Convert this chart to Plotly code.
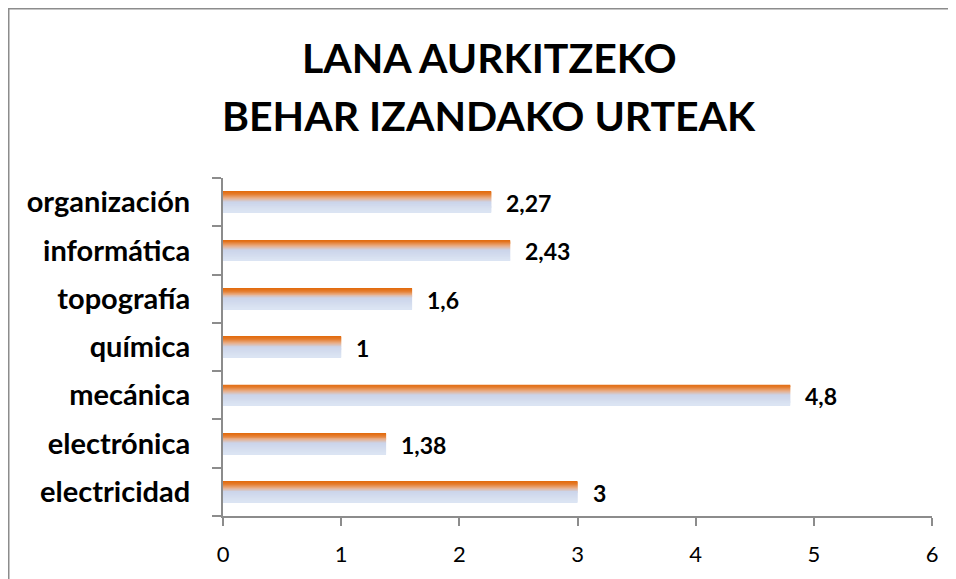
import plotly.graph_objects as go

categories = ["electricidad", "electrónica", "mecánica", "química", "topografía", "informática", "organización"]
values = [3, 1.38, 4.8, 1, 1.6, 2.43, 2.27]
x_ticks = [0, 1, 2, 3, 4, 5, 6]
title_lines = ["LANA AURKITZEKO", "BEHAR IZANDAKO URTEAK"]

FONT = "Lato"

def hex2rgb(h):
    h = h.lstrip("#")
    return tuple(int(h[i:i + 2], 16) for i in (0, 2, 4))

# gradient stops from top (0) to bottom (1)
stops = [(0.0, "#E2690A"), (0.14, "#E47A2A"), (0.32, "#E9AE88"), (0.5, "#CBD4EA"), (1.0, "#DCE5F3")]

def color_at(t):
    for (t0, c0), (t1, c1) in zip(stops[:-1], stops[1:]):
        if t0 <= t <= t1:
            f = (t - t0) / (t1 - t0) if t1 > t0 else 0
            a, b = hex2rgb(c0), hex2rgb(c1)
            r = [round(a[i] + (b[i] - a[i]) * f) for i in range(3)]
            return "rgb(%d,%d,%d)" % tuple(r)
    return stops[-1][1]

fig = go.Figure()
W = 0.43
N = 22
step = W / N
for i in range(N):
    t = (i + 0.5) / N  # from top
    off = W / 2 - (i + 1) * step
    fig.add_trace(go.Bar(
        x=values, y=categories, orientation="h",
        width=step * 1.35, offset=off - step * 0.175,
        marker=dict(color=color_at(t), line=dict(width=0)),
        hoverinfo="skip", showlegend=False,
    ))

for v, c in zip(values, categories):
    fig.add_annotation(
        x=v, y=c, xref="x", yref="y",
        text=("%g" % v).replace(".", ","),
        showarrow=False, xanchor="left", yanchor="middle",
        xshift=13, yshift=-1,
        font=dict(family=FONT, size=23, color="black", weight="bold"),
    )

# page body has an 8px margin: figure coords = page coords - 8
L, T = 215, 170
PW, PH = 709, 338
FW, FH = 956, 579
R, B = FW - L - PW, FH - T - PH

def px_x(p):
    return (p - L) / PW

def px_y(p):
    return (T + PH - p) / PH

fig.add_shape(type="rect", xref="paper", yref="paper",
              x0=px_x(0.5), x1=px_x(1000), y0=px_y(0.5), y1=px_y(640),
              line=dict(color="#8C8C8C", width=2), fillcolor="rgba(0,0,0,0)", layer="below")

for line, yc in zip(title_lines, [49, 108]):
    fig.add_annotation(
        x=px_x(481), y=px_y(yc), xref="paper", yref="paper",
        text=line, showarrow=False, xanchor="center", yanchor="middle",
        font=dict(family=FONT, size=41, color="black", weight="bold"),
    )

fig.update_layout(
    width=FW, height=FH,
    margin=dict(l=L, r=R, t=T, b=B),
    paper_bgcolor="white", plot_bgcolor="white",
    barmode="overlay",
    xaxis=dict(
        range=[0, 6], tickvals=x_ticks, ticktext=[str(v) for v in x_ticks],
        showgrid=False, zeroline=False,
        showline=True, linecolor="#8C8C8C", linewidth=2,
        ticks="outside", ticklen=8, tickwidth=2, tickcolor="#8C8C8C",
        tickfont=dict(family=FONT, size=22, color="black"),
        ticklabelstandoff=10,
    ),
    yaxis=dict(
        categoryorder="array", categoryarray=categories,
        range=[-0.5, 6.5],
        showgrid=False, zeroline=False,
        showline=True, linecolor="#8C8C8C", linewidth=2,
        ticks="outside", ticklen=9, tickwidth=2, tickcolor="#8C8C8C",
        tickson="boundaries",
        tickfont=dict(family=FONT, size=29, color="black", weight="bold"),
        ticklabelstandoff=25,
    ),
)

fig.write_html("out.html")
